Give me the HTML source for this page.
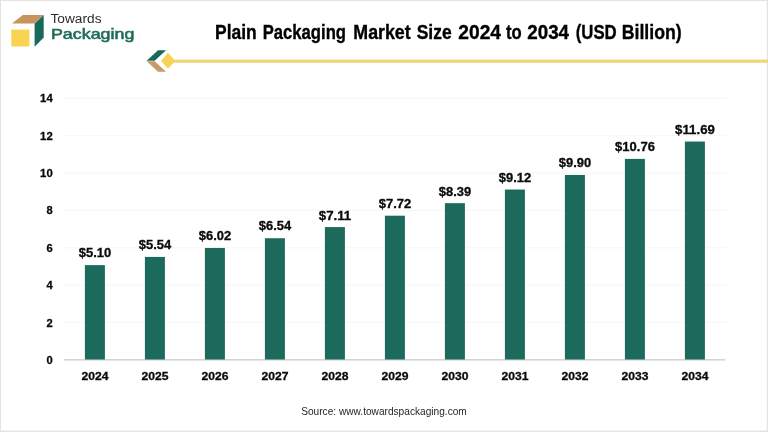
<!DOCTYPE html>
<html lang="en"><head><meta charset="utf-8"><title>Plain Packaging Market Size 2024 to 2034 (USD Billion)</title>
<style>
html,body{margin:0;padding:0;background:#fff;}
body{width:768px;height:432px;overflow:hidden;}
svg{display:block;}
text{font-family:"Liberation Sans",sans-serif;}
.b{font-weight:bold;fill:#0a0a0a;stroke:#0a0a0a;stroke-width:0.3px;}
</style></head><body>
<svg width="768" height="432" viewBox="0 0 768 432">
<rect x="0" y="0" width="768" height="432" fill="#ffffff"/>
<rect x="0" y="0" width="768" height="1" fill="#e3e3e3"/><rect x="0" y="0" width="1" height="432" fill="#e3e3e3"/><rect x="766.8" y="0" width="1.2" height="432" fill="#e3e3e3"/><rect x="0" y="430.6" width="768" height="1.4" fill="#e3e3e3"/>
<g id="logo">
<polygon points="12.0,23.5 22.8,14.9 43.6,14.9 34.6,23.5" fill="#c6945e"/>
<polygon points="43.7,14.9 43.7,37.5 34.6,46.7 34.6,23.8" fill="#17695a"/>
<rect x="11.3" y="29.6" width="18.1" height="16.9" fill="#f8d452"/>
<text x="50.5" y="22.6" font-size="12.3" fill="#2b2b2b" textLength="51" lengthAdjust="spacingAndGlyphs">Towards</text>
<text x="50.9" y="38.5" font-size="14.4" fill="#1f6b5a" stroke="#1f6b5a" stroke-width="0.55" textLength="83.5" lengthAdjust="spacingAndGlyphs">Packaging</text>
</g>
<text y="39.3" font-size="19.6" class="b" style="fill:#000;stroke:#000;stroke-width:0.35px"><tspan x="215" textLength="41.7" lengthAdjust="spacingAndGlyphs">Plain</tspan> <tspan x="262.7" textLength="83.3" lengthAdjust="spacingAndGlyphs">Packaging</tspan> <tspan x="353.3" textLength="57.4" lengthAdjust="spacingAndGlyphs">Market</tspan> <tspan x="416.7" textLength="35.0" lengthAdjust="spacingAndGlyphs">Size</tspan> <tspan x="458.3" textLength="42.7" lengthAdjust="spacingAndGlyphs">2024</tspan> <tspan x="506" textLength="15.7" lengthAdjust="spacingAndGlyphs">to</tspan> <tspan x="527.3" textLength="41.7" lengthAdjust="spacingAndGlyphs">2034</tspan> <tspan x="575.7" textLength="41.0" lengthAdjust="spacingAndGlyphs">(USD</tspan> <tspan x="621.7" textLength="60.0" lengthAdjust="spacingAndGlyphs">Billion)</tspan></text>
<g id="deco">
<rect x="170" y="59.6" width="598" height="3.2" fill="#f2d575"/>
<polygon points="146.7,60.8 158,50.2 166,50.2 154.7,60.8" fill="#17695a"/>
<polygon points="146.7,61.2 154.7,61.2 166,71.7 158,71.7" fill="#c79a66"/>
<polygon points="161,61 168,52.7 175.2,61 168,68.8" fill="#f6d255"/>
</g>
<rect x="64" y="322.04" width="662" height="1" fill="#f6f6f6"/>
<rect x="64" y="284.68" width="662" height="1" fill="#f6f6f6"/>
<rect x="64" y="247.32" width="662" height="1" fill="#f6f6f6"/>
<rect x="64" y="209.96" width="662" height="1" fill="#f6f6f6"/>
<rect x="64" y="172.60" width="662" height="1" fill="#f6f6f6"/>
<rect x="64" y="135.24" width="662" height="1" fill="#f6f6f6"/>
<rect x="64" y="97.88" width="662" height="1" fill="#f6f6f6"/>
<rect x="64" y="359.00" width="661.3" height="1.6" fill="#d4d4d4"/>
<text x="46.5" y="363.90" font-size="11.2" class="b" textLength="6.2" lengthAdjust="spacingAndGlyphs">0</text>
<text x="46.5" y="326.54" font-size="11.2" class="b" textLength="6.2" lengthAdjust="spacingAndGlyphs">2</text>
<text x="46.5" y="289.18" font-size="11.2" class="b" textLength="6.2" lengthAdjust="spacingAndGlyphs">4</text>
<text x="46.5" y="251.82" font-size="11.2" class="b" textLength="6.2" lengthAdjust="spacingAndGlyphs">6</text>
<text x="46.5" y="214.46" font-size="11.2" class="b" textLength="6.2" lengthAdjust="spacingAndGlyphs">8</text>
<text x="40.1" y="177.10" font-size="11.2" class="b" textLength="12.6" lengthAdjust="spacingAndGlyphs">10</text>
<text x="40.1" y="139.74" font-size="11.2" class="b" textLength="12.6" lengthAdjust="spacingAndGlyphs">12</text>
<text x="40.1" y="102.38" font-size="11.2" class="b" textLength="12.6" lengthAdjust="spacingAndGlyphs">14</text>
<rect x="84.9" y="265.13" width="20" height="94.37" fill="#1b6a5b"/>
<text x="78.80" y="257.13" font-size="12.3" class="b" textLength="32.4" lengthAdjust="spacingAndGlyphs">$5.10</text>
<text x="81.50" y="380.2" font-size="11.5" class="b" textLength="27" lengthAdjust="spacingAndGlyphs">2024</text>
<rect x="144.9" y="256.91" width="20" height="102.59" fill="#1b6a5b"/>
<text x="138.80" y="248.91" font-size="12.3" class="b" textLength="32.4" lengthAdjust="spacingAndGlyphs">$5.54</text>
<text x="141.50" y="380.2" font-size="11.5" class="b" textLength="27" lengthAdjust="spacingAndGlyphs">2025</text>
<rect x="204.9" y="247.95" width="20" height="111.55" fill="#1b6a5b"/>
<text x="198.80" y="239.95" font-size="12.3" class="b" textLength="32.4" lengthAdjust="spacingAndGlyphs">$6.02</text>
<text x="201.50" y="380.2" font-size="11.5" class="b" textLength="27" lengthAdjust="spacingAndGlyphs">2026</text>
<rect x="264.9" y="238.23" width="20" height="121.27" fill="#1b6a5b"/>
<text x="258.80" y="230.23" font-size="12.3" class="b" textLength="32.4" lengthAdjust="spacingAndGlyphs">$6.54</text>
<text x="261.50" y="380.2" font-size="11.5" class="b" textLength="27" lengthAdjust="spacingAndGlyphs">2027</text>
<rect x="324.9" y="227.09" width="20" height="132.41" fill="#1b6a5b"/>
<text x="318.80" y="219.59" font-size="12.3" class="b" textLength="32.4" lengthAdjust="spacingAndGlyphs">$7.11</text>
<text x="321.50" y="380.2" font-size="11.5" class="b" textLength="27" lengthAdjust="spacingAndGlyphs">2028</text>
<rect x="384.9" y="215.69" width="20" height="143.81" fill="#1b6a5b"/>
<text x="378.80" y="208.19" font-size="12.3" class="b" textLength="32.4" lengthAdjust="spacingAndGlyphs">$7.72</text>
<text x="381.50" y="380.2" font-size="11.5" class="b" textLength="27" lengthAdjust="spacingAndGlyphs">2029</text>
<rect x="444.9" y="203.17" width="20" height="156.33" fill="#1b6a5b"/>
<text x="438.80" y="195.67" font-size="12.3" class="b" textLength="32.4" lengthAdjust="spacingAndGlyphs">$8.39</text>
<text x="441.50" y="380.2" font-size="11.5" class="b" textLength="27" lengthAdjust="spacingAndGlyphs">2030</text>
<rect x="504.9" y="189.54" width="20" height="169.96" fill="#1b6a5b"/>
<text x="498.80" y="182.04" font-size="12.3" class="b" textLength="32.4" lengthAdjust="spacingAndGlyphs">$9.12</text>
<text x="501.50" y="380.2" font-size="11.5" class="b" textLength="27" lengthAdjust="spacingAndGlyphs">2031</text>
<rect x="564.9" y="174.97" width="20" height="184.53" fill="#1b6a5b"/>
<text x="558.80" y="167.47" font-size="12.3" class="b" textLength="32.4" lengthAdjust="spacingAndGlyphs">$9.90</text>
<text x="561.50" y="380.2" font-size="11.5" class="b" textLength="27" lengthAdjust="spacingAndGlyphs">2032</text>
<rect x="624.9" y="158.90" width="20" height="200.60" fill="#1b6a5b"/>
<text x="615.10" y="151.40" font-size="12.3" class="b" textLength="39.8" lengthAdjust="spacingAndGlyphs">$10.76</text>
<text x="621.50" y="380.2" font-size="11.5" class="b" textLength="27" lengthAdjust="spacingAndGlyphs">2033</text>
<rect x="684.9" y="141.53" width="20" height="217.97" fill="#1b6a5b"/>
<text x="675.10" y="134.03" font-size="12.3" class="b" textLength="39.8" lengthAdjust="spacingAndGlyphs">$11.69</text>
<text x="681.50" y="380.2" font-size="11.5" class="b" textLength="27" lengthAdjust="spacingAndGlyphs">2034</text>
<text x="301.2" y="415.1" font-size="10.6" fill="#262626" textLength="165.6" lengthAdjust="spacingAndGlyphs">Source: www.towardspackaging.com</text>
</svg>
</body></html>
